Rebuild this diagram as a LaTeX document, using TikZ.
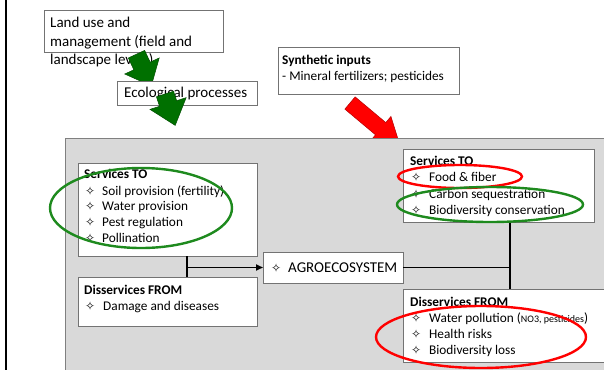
\documentclass[tikz,border=0pt]{standalone}
\usepackage{fontspec}
\setmainfont{Carlito}
\newfontfamily\symfont{DejaVu Sans}
\usetikzlibrary{arrows.meta}

\definecolor{panelgray}{RGB}{217,217,217}
\definecolor{edgegray}{RGB}{128,128,128}
\definecolor{boxedge}{RGB}{115,115,115}
\definecolor{arrowgreen}{RGB}{0,112,0}
\definecolor{ringgreen}{RGB}{30,138,30}
\definecolor{ringred}{RGB}{255,0,0}

\tikzset{
  box/.style={draw=boxedge, fill=white, line width=0.7pt, anchor=north west,
              inner sep=0pt, outer sep=0pt},
  txt/.style={anchor=base west, inner sep=0pt, font=\fontsize{13.3}{16}\selectfont},
  bigtxt/.style={anchor=base west, inner sep=0pt, font=\fontsize{15}{18}\selectfont},
  headtxt/.style={anchor=base west, inner sep=0pt, font=\fontsize{13.3}{16}\selectfont\bfseries},
  link/.style={line width=1.6pt, draw=black},
  ring/.style={line width=2.4pt},
}

% item marker: outlined four-pointed star followed by a fixed gap
\newcommand{\itm}[1][17pt]{\makebox[#1][l]{\symfont\fontsize{12}{12}\selectfont ✧}}

% fat block arrow: start x, start y, angle below horizontal, shaft length,
% shaft half width, head length, head half width, fill colour
\newcommand{\blockarrow}[8]{%
  \begin{scope}[shift={(#1,#2)}, rotate=-#3]
    \filldraw[fill=#8, draw=#8!70!black, line width=0.5pt]
      (0,-#5) -- (#4,-#5) -- (#4,-#7) -- ({#4+#6},0) -- (#4,#7) -- (#4,#5) -- (0,#5) -- cycle;
  \end{scope}}

\begin{document}
\begin{tikzpicture}[x=1pt, y=-1pt]
\useasboundingbox (0,0) rectangle (604,369);
\fill[white] (0,0) rectangle (604,369);

% left margin rule
\draw[line width=2pt] (6,-2) -- (6,371);

% land use box and its overflowing text
\node[box, minimum width=179pt, minimum height=42pt] (landuse) at (44,10) {};
\node[bigtxt] (lu1) at (50,27.5) {Land use and};
\node[bigtxt] (lu2) at (50,46) {management (field and};
\node[bigtxt] (lu3) at (50,64.5) {landscape levels)};

\blockarrow{136.5}{54.2}{65}{13}{9}{22}{19}{arrowgreen}

% ecological processes
\node[box, minimum width=140pt, minimum height=24pt] (eco) at (117,81) {};
\node[bigtxt] (ecotext) at (124,97.5) {Ecological processes};

\blockarrow{165}{94}{72}{10}{9}{23}{19}{arrowgreen}

% synthetic inputs
\node[box, minimum width=181pt, minimum height=47pt] (synth) at (278,47) {};
\node[headtxt] (synth1) at (282,64) {Synthetic inputs};
\node[txt] (synth2) at (282,80) {- Mineral fertilizers; pesticides};

\blockarrow{350}{103}{40}{40}{8}{25}{16}{ringred}

% agroecosystem panel
\node[draw=edgegray, fill=panelgray, line width=1.3pt, anchor=north west,
      minimum width=560pt, minimum height=260pt, inner sep=0pt] (panel) at (65,138) {};

% left column
\node[box, minimum width=179pt, minimum height=93pt] (lsvc) at (78,163) {};
\node[headtxt] (lsvc0) at (84,178) {Services TO};
\node[txt] (lsvc1) at (85,195) {\itm Soil provision (fertility)};
\node[txt] (lsvc2) at (85,210.7) {\itm Water provision};
\node[txt] (lsvc3) at (85,226.3) {\itm Pest regulation};
\node[txt] (lsvc4) at (85,242) {\itm Pollination};

\node[box, minimum width=179pt, minimum height=49pt] (ldis) at (78,277) {};
\node[headtxt] (ldis0) at (84,294.5) {Disservices FROM};
\node[txt] (ldis1) at (85,310.5) {\itm[18pt]Damage and diseases};

% centre
\node[box, minimum width=140pt, minimum height=31pt] (agro) at (263,252) {};
\node[bigtxt] (agrotext) at (271,272) {\itm[17pt]AGROECOSYSTEM};

% right column
\node[box, minimum width=191pt, minimum height=73pt] (rsvc) at (403,149) {};
\node[headtxt] (rsvc0) at (410,165.5) {Services TO};
\node[txt] (rsvc1) at (411,181.5) {\itm[18pt]Food \& fiber};
\node[txt] (rsvc2) at (411,198) {\itm[18pt]Carbon sequestration};
\node[txt] (rsvc3) at (411,214) {\itm[18pt]Biodiversity conservation};

\node[box, minimum width=215pt, minimum height=73pt] (rdis) at (403,289) {};
\node[headtxt] (rdis0) at (410,306) {Disservices FROM};
\node[txt] (rdis1) at (411,322) {\itm[18pt]Water pollution ({\fontsize{10}{12}\selectfont NO3, pesticides})};
\node[txt] (rdis2) at (411,338) {\itm[18pt]Health risks};
\node[txt] (rdis3) at (411,354) {\itm[18pt]Biodiversity loss};

% connectors
\coordinate (jl) at (187,267.5);
\coordinate (jr) at (510,267.5);
\draw[link] (lsvc.south -| jl) -- (ldis.north -| jl);
\draw[link, -{Triangle[length=7pt,width=6pt]}] (jl) -- (agro.west);
\draw[link] (agro.east) -- (jr);
\draw[link] (rsvc.south -| jr) -- (rdis.north -| jr);

% highlight rings
\draw[ring, ringgreen] (141,208) ellipse [x radius=91, y radius=40];
\draw[ring, ringred] (460,176.5) ellipse [x radius=62, y radius=11.5];
\draw[ring, ringgreen] (490,204.5) ellipse [x radius=93, y radius=17.5];
\draw[ring, ringred] (481,337) ellipse [x radius=105, y radius=31];
\end{tikzpicture}
\end{document}
